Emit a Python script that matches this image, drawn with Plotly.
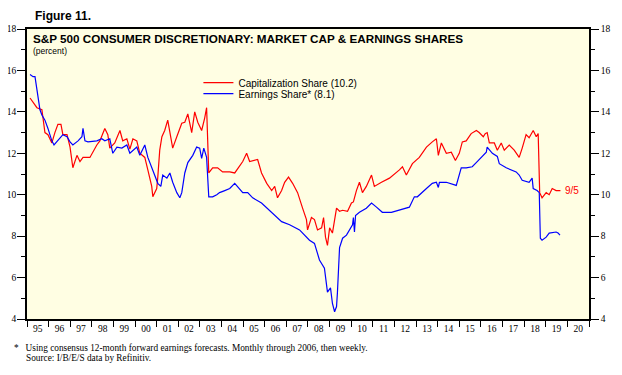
import pandas as pd
import plotly.graph_objects as go

# ---- data ----
cap_years = [1995.14, 1995.46, 1995.69, 1995.83, 1995.97, 1996.15, 1996.29, 1996.43, 1996.57, 1996.66,
             1996.85, 1996.99, 1997.12, 1997.31, 1997.45, 1997.59, 1997.77, 1997.91, 1998.23, 1998.37,
             1998.60, 1998.74, 1998.83, 1999.06, 1999.30, 1999.43, 1999.62, 1999.76, 1999.90, 2000.08,
             2000.22, 2000.45, 2000.59, 2000.77, 2000.82, 2001.00, 2001.05, 2001.14, 2001.24, 2001.37,
             2001.51, 2001.61, 2001.74, 2001.93, 2002.16, 2002.30, 2002.44, 2002.62, 2002.76, 2002.90,
             2003.08, 2003.22, 2003.31, 2003.41, 2003.59, 2003.82, 2004.05, 2004.38, 2004.61, 2004.98,
             2005.16, 2005.30, 2005.67, 2005.85, 2006.09, 2006.32, 2006.46, 2006.59, 2006.78, 2006.92,
             2007.10, 2007.29, 2007.52, 2007.75, 2007.93, 2007.98, 2008.16, 2008.30, 2008.44, 2008.63,
             2008.72, 2008.81, 2008.90, 2009.00, 2009.13, 2009.32, 2009.46, 2009.60, 2009.83, 2010.01,
             2010.10, 2010.24, 2010.38, 2010.52, 2010.70, 2010.94, 2011.07, 2011.40, 2011.77, 2012.23,
             2012.37, 2012.55, 2012.83, 2013.15, 2013.48, 2013.75, 2013.94, 2014.03, 2014.17, 2014.40,
             2014.63, 2014.82, 2015.00, 2015.14, 2015.32, 2015.55, 2015.79, 2015.92, 2016.11, 2016.20,
             2016.29, 2016.39, 2016.62, 2016.76, 2016.94, 2017.08, 2017.31, 2017.54, 2017.77, 2017.91,
             2018.09, 2018.23, 2018.42, 2018.56, 2018.65, 2018.72, 2018.83, 2019.02, 2019.16, 2019.30,
             2019.48, 2019.62, 2019.68]
cap_share = [14.67, 14.2, 14.1, 13.0, 12.9, 12.5, 13.0, 13.4, 13.4, 12.9,
             12.9, 12.3, 11.3, 11.9, 11.6, 11.8, 11.8, 11.8, 12.4, 12.6,
             13.2, 12.9, 12.25, 12.5, 13.1, 12.6, 12.7, 12.2, 12.7, 12.6,
             12.0, 11.8, 11.2, 10.4, 9.9, 10.3, 10.85, 12.15, 12.8, 13.1,
             13.6, 13.0, 12.25, 12.8, 13.45, 13.5, 13.9, 13.0, 14.0, 13.5,
             13.1, 13.7, 14.2, 11.05, 11.3, 11.3, 11.1, 11.1, 11.05, 11.6,
             12.0, 11.6, 11.7, 11.05, 10.55, 10.2, 10.4, 9.85, 10.2, 10.6,
             10.85, 10.55, 10.1, 9.35, 8.8, 8.3, 8.9, 8.8, 8.3, 8.4,
             8.9, 7.95, 7.55, 8.4, 8.15, 9.35, 9.2, 9.25, 9.2, 9.6,
             9.65, 10.2, 10.6, 10.1, 10.4, 10.95, 10.4, 10.6, 10.8, 11.2,
             11.35, 10.95, 11.5, 11.8, 12.3, 12.55, 12.7, 11.9, 12.5, 12.0,
             12.05, 11.65, 12.0, 12.55, 12.6, 12.95, 13.1, 13.0, 12.8, 12.95,
             13.0, 12.5, 12.5, 12.15, 12.5, 12.15, 12.4, 12.15, 11.8, 12.25,
             12.9, 12.75, 13.1, 12.8, 12.95, 10.1, 9.85, 10.1, 10.0, 10.3,
             10.2, 10.2, 10.2]

earn_years = [1995.14, 1995.28, 1995.37, 1995.46, 1995.51, 1995.60, 1995.69, 1995.83, 1995.97, 1996.15,
              1996.25, 1996.43, 1996.66, 1996.85, 1996.99, 1997.12, 1997.36, 1997.54, 1997.59, 1997.68,
              1997.82, 1998.23, 1998.46, 1998.60, 1998.83, 1998.97, 1999.16, 1999.39, 1999.62, 1999.76,
              2000.08, 2000.22, 2000.45, 2000.59, 2000.77, 2000.91, 2001.05, 2001.19, 2001.28, 2001.47,
              2001.61, 2001.74, 2001.93, 2002.07, 2002.16, 2002.30, 2002.44, 2002.67, 2002.85, 2002.99,
              2003.08, 2003.18, 2003.31, 2003.41, 2003.59, 2003.78, 2003.91, 2004.15, 2004.38, 2004.61,
              2004.98, 2005.21, 2005.44, 2005.85, 2006.32, 2006.78, 2007.15, 2007.61, 2008.07, 2008.30,
              2008.53, 2008.76, 2008.90, 2009.04, 2009.13, 2009.23, 2009.32, 2009.36, 2009.46, 2009.60,
              2009.78, 2009.92, 2010.06, 2010.10, 2010.15, 2010.20, 2010.38, 2010.70, 2010.94, 2011.17,
              2011.44, 2011.86, 2012.23, 2012.69, 2012.92, 2013.06, 2013.48, 2013.75, 2013.94, 2014.03,
              2014.08, 2014.40, 2014.86, 2015.09, 2015.32, 2015.60, 2015.83, 2016.06, 2016.25, 2016.29,
              2016.53, 2016.76, 2016.85, 2017.17, 2017.45, 2017.63, 2017.77, 2017.91, 2018.23, 2018.37,
              2018.42, 2018.60, 2018.70, 2018.75, 2018.83, 2019.02, 2019.16, 2019.48, 2019.57, 2019.66]
earn_share = [15.8, 15.7, 15.7, 15.05, 14.7, 14.1, 13.85, 13.6, 13.2, 12.6,
              12.4, 12.6, 12.9, 12.8, 12.55, 12.4, 12.6, 12.8, 13.2, 12.6,
              12.55, 12.6, 12.7, 12.6, 12.7, 12.0, 12.3, 12.25, 12.4, 12.0,
              12.3, 11.9, 12.4, 11.8, 11.3, 10.95, 10.55, 10.4, 10.95, 10.8,
              11.05, 10.6, 10.1, 9.85, 10.1, 11.05, 11.55, 11.9, 12.3, 12.25,
              11.75, 12.25, 11.8, 9.9, 9.9, 10.0, 10.1, 10.2, 10.3, 10.55,
              10.1, 10.1, 9.85, 9.6, 9.15, 8.7, 8.55, 8.3, 7.8, 7.65,
              6.85, 6.45, 5.3, 5.5, 4.75, 4.35, 4.6, 5.25, 7.45, 7.9,
              8.05, 8.3, 8.55, 8.9, 8.2, 9.0, 9.15, 9.35, 9.6, 9.4,
              9.15, 9.15, 9.25, 9.4, 9.9, 9.9, 10.3, 10.55, 10.6, 10.35,
              10.6, 10.6, 10.45, 11.3, 11.3, 11.35, 11.6, 11.85, 12.05, 12.3,
              12.0, 11.85, 11.5, 11.3, 11.2, 11.1, 10.95, 10.7, 10.6, 10.8,
              10.3, 10.2, 10.1, 7.9, 7.8, 7.95, 8.15, 8.2, 8.15, 8.05]

cap_name = "Capitalization Share (10.2)"
earn_name = "Earnings Share* (8.1)"
end_label = "9/5"


def to_dates(years):
    out = []
    for y in years:
        yr = int(y)
        start = pd.Timestamp(year=yr, month=1, day=1)
        nxt = pd.Timestamp(year=yr + 1, month=1, day=1)
        out.append(start + (nxt - start) * (y - yr))
    return out


cap_x = to_dates(cap_years)
earn_x = to_dates(earn_years)

fig = go.Figure()
fig.add_trace(go.Scatter(x=cap_x, y=cap_share, mode="lines", name=cap_name, legend="legend",
                         line=dict(color="#FF0000", width=1.2)))
fig.add_trace(go.Scatter(x=earn_x, y=earn_share, mode="lines", name=earn_name, legend="legend2",
                         line=dict(color="#0000FF", width=1.2)))
# invisible trace to carry the right axis
fig.add_trace(go.Scatter(x=[cap_x[0]], y=[cap_share[0]], yaxis="y2", mode="lines",
                         showlegend=False, hoverinfo="skip", line=dict(width=0)))

fig.add_annotation(x=cap_x[-1], y=cap_share[-1], text=end_label, showarrow=False,
                   xanchor="left", xshift=3, font=dict(color="#FF0000", size=10,
                   family="Liberation Sans"))

tickfont = dict(family="Liberation Serif", size=9.5, color="black")
legfont = dict(family="Liberation Sans", size=10, color="black")
# the page body has an 8px margin, so the figure is sized/offset to compensate
fig.update_layout(
    width=614, height=367,
    margin=dict(l=19, r=33, t=21, b=56, autoexpand=False),
    paper_bgcolor="white", plot_bgcolor="#FFFEE3",
    showlegend=True,
    legend=dict(x=0.305, y=0.865, xanchor="left", yanchor="top", bgcolor="rgba(0,0,0,0)",
                font=legfont, itemwidth=30),
    legend2=dict(x=0.305, y=0.827, xanchor="left", yanchor="top", bgcolor="rgba(0,0,0,0)",
                 font=legfont, itemwidth=30),
    xaxis=dict(type="date", range=["1995-01-01", "2021-01-01"], dtick="M12",
               tick0="1995-01-01", tickformat="%y", ticklabelmode="period",
               ticks="outside", ticklen=6, tickcolor="black", showgrid=False,
               showline=True, linecolor="black", linewidth=1.5, mirror=True,
               tickfont=tickfont, zeroline=False, automargin=False,
               ticklabelstandoff=-6),
    yaxis=dict(range=[4, 18], dtick=2, tick0=4, ticks="outside", ticklen=8,
               tickcolor="black", showgrid=False, showline=True, linecolor="black",
               linewidth=1.5, tickfont=tickfont, zeroline=False, automargin=False,
               ticklabelstandoff=-1,
               minor=dict(dtick=1, ticks="outside", ticklen=4, tickcolor="black")),
    yaxis2=dict(range=[4, 18], dtick=2, tick0=4, overlaying="y", side="right",
                ticks="outside", ticklen=8, tickcolor="black", showgrid=False,
                showline=True, linecolor="black", linewidth=1.5, tickfont=tickfont,
                zeroline=False, automargin=False,
                minor=dict(dtick=1, ticks="outside", ticklen=4, tickcolor="black")),
)

fig.add_annotation(xref="paper", yref="paper", x=0.011, y=1.0, yshift=4,
                   xanchor="left", yanchor="bottom", showarrow=False,
                   text="<b>Figure 11.</b>",
                   font=dict(family="Liberation Sans", size=12, color="black"))
fig.add_annotation(xref="paper", yref="paper", x=0.007, y=0.998,
                   xanchor="left", yanchor="top", showarrow=False,
                   text="<b>S&P 500 CONSUMER DISCRETIONARY: MARKET CAP & EARNINGS SHARES</b>",
                   font=dict(family="Liberation Sans", size=11.7, color="black"))
fig.add_annotation(xref="paper", yref="paper", x=0.007, y=0.948,
                   xanchor="left", yanchor="top", showarrow=False,
                   text="(percent)",
                   font=dict(family="Liberation Sans", size=8.5, color="black"))
footfont = dict(family="Liberation Serif", size=9.3, color="black")
fig.add_annotation(xref="paper", yref="paper", x=-0.025, y=-0.101,
                   xanchor="left", yanchor="middle", showarrow=False, align="left",
                   text="*&nbsp;&nbsp;&nbsp;Using consensus 12-month forward earnings forecasts. Monthly through 2006, then weekly.",
                   font=footfont, borderpad=0)
fig.add_annotation(xref="paper", yref="paper", x=-0.004, y=-0.135,
                   xanchor="left", yanchor="middle", showarrow=False, align="left",
                   text="Source: I/B/E/S data by Refinitiv.",
                   font=footfont, borderpad=0)

fig.write_html("out.html")
